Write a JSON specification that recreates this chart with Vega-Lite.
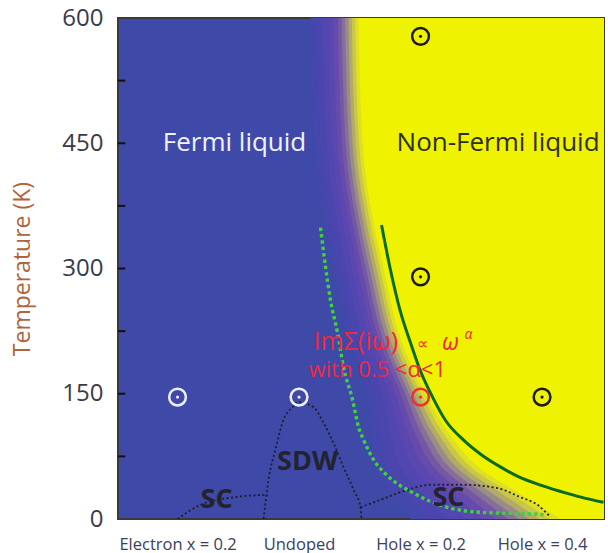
{
  "$schema": "https://vega.github.io/schema/vega-lite/v6.json",
  "width": 486,
  "height": 501,
  "autosize": {"type": "none"},
  "padding": {"left": 118, "top": 18, "right": 4, "bottom": 34},
  "background": "white",
  "config": {
    "view": {"fill": "#3e49a8", "stroke": "#3a3a3a", "strokeWidth": 2},
    "font": "Open Sans",
    "axis": {"grid": false, "domain": false, "ticks": false}
  },
  "datasets": {
    "bg": [
      {"T": 600, "b0": 1.095, "b1": 1.142, "b2": 1.193, "b3": 1.241, "b4": 1.284, "b5": 1.320, "b6": 1.351, "b7": 1.379, "b8": 1.407, "b9": 1.434, "b10": 1.462, "b11": 1.490},
      {"T": 450, "b0": 1.128, "b1": 1.175, "b2": 1.226, "b3": 1.274, "b4": 1.317, "b5": 1.353, "b6": 1.384, "b7": 1.412, "b8": 1.440, "b9": 1.467, "b10": 1.495, "b11": 1.523},
      {"T": 300, "b0": 1.284, "b1": 1.333, "b2": 1.387, "b3": 1.436, "b4": 1.481, "b5": 1.519, "b6": 1.551, "b7": 1.580, "b8": 1.609, "b9": 1.638, "b10": 1.667, "b11": 1.695},
      {"T": 200, "b0": 1.449, "b1": 1.500, "b2": 1.556, "b3": 1.607, "b4": 1.654, "b5": 1.693, "b6": 1.727, "b7": 1.757, "b8": 1.787, "b9": 1.817, "b10": 1.847, "b11": 1.877},
      {"T": 150, "b0": 1.564, "b1": 1.621, "b2": 1.683, "b3": 1.740, "b4": 1.793, "b5": 1.836, "b6": 1.874, "b7": 1.907, "b8": 1.941, "b9": 1.974, "b10": 2.008, "b11": 2.041},
      {"T": 100, "b0": 1.588, "b1": 1.667, "b2": 1.753, "b3": 1.832, "b4": 1.905, "b5": 1.964, "b6": 2.016, "b7": 2.063, "b8": 2.109, "b9": 2.155, "b10": 2.201, "b11": 2.247},
      {"T": 60, "b0": 1.630, "b1": 1.733, "b2": 1.846, "b3": 1.949, "b4": 2.044, "b5": 2.122, "b6": 2.191, "b7": 2.252, "b8": 2.312, "b9": 2.373, "b10": 2.433, "b11": 2.494},
      {"T": 30, "b0": 1.753, "b1": 1.881, "b2": 2.021, "b3": 2.149, "b4": 2.267, "b5": 2.363, "b6": 2.449, "b7": 2.523, "b8": 2.598, "b9": 2.673, "b10": 2.748, "b11": 2.823},
      {"T": 0, "b0": 1.918, "b1": 2.066, "b2": 2.226, "b3": 2.374, "b4": 2.510, "b5": 2.621, "b6": 2.720, "b7": 2.807, "b8": 2.893, "b9": 2.979, "b10": 3.066, "b11": 3.152}
    ],
    "lines": [
      {"c": "lg", "x": 1.177, "T": 349}, {"c": "lg", "x": 1.218, "T": 302}, {"c": "lg", "x": 1.259, "T": 262},
      {"c": "lg", "x": 1.317, "T": 223}, {"c": "lg", "x": 1.366, "T": 182}, {"c": "lg", "x": 1.440, "T": 143},
      {"c": "lg", "x": 1.490, "T": 110}, {"c": "lg", "x": 1.531, "T": 95}, {"c": "lg", "x": 1.613, "T": 71},
      {"c": "lg", "x": 1.712, "T": 54}, {"c": "lg", "x": 1.942, "T": 31}, {"c": "lg", "x": 2.222, "T": 14},
      {"c": "lg", "x": 2.494, "T": 8}, {"c": "lg", "x": 2.930, "T": 6}, {"c": "lg", "x": 3.012, "T": 5},
      {"c": "dg", "x": 1.679, "T": 352}, {"c": "dg", "x": 1.75, "T": 300}, {"c": "dg", "x": 1.835, "T": 248},
      {"c": "dg", "x": 1.92, "T": 210}, {"c": "dg", "x": 2.0, "T": 177}, {"c": "dg", "x": 2.099, "T": 146},
      {"c": "dg", "x": 2.206, "T": 118}, {"c": "dg", "x": 2.35, "T": 95}, {"c": "dg", "x": 2.5, "T": 77},
      {"c": "dg", "x": 2.65, "T": 63}, {"c": "dg", "x": 2.8, "T": 51}, {"c": "dg", "x": 3.0, "T": 40},
      {"c": "dg", "x": 3.2, "T": 31}, {"c": "dg", "x": 3.35, "T": 25}, {"c": "dg", "x": 3.506, "T": 20},
      {"c": "sc1", "x": 0.0, "T": 0}, {"c": "sc1", "x": 0.189, "T": 17}, {"c": "sc1", "x": 0.461, "T": 26}, {"c": "sc1", "x": 0.741, "T": 29},
      {"c": "sdw", "x": 0.708, "T": 0}, {"c": "sdw", "x": 0.749, "T": 47}, {"c": "sdw", "x": 0.807, "T": 84},
      {"c": "sdw", "x": 0.872, "T": 119}, {"c": "sdw", "x": 0.947, "T": 134}, {"c": "sdw", "x": 0.988, "T": 140},
      {"c": "sdw", "x": 1.119, "T": 134}, {"c": "sdw", "x": 1.202, "T": 115}, {"c": "sdw", "x": 1.284, "T": 91},
      {"c": "sdw", "x": 1.366, "T": 62}, {"c": "sdw", "x": 1.449, "T": 35}, {"c": "sdw", "x": 1.506, "T": 14},
      {"c": "sdw", "x": 1.514, "T": 0},
      {"c": "sc2", "x": 1.506, "T": 14}, {"c": "sc2", "x": 1.671, "T": 23}, {"c": "sc2", "x": 1.893, "T": 35},
      {"c": "sc2", "x": 2.082, "T": 41}, {"c": "sc2", "x": 2.354, "T": 41}, {"c": "sc2", "x": 2.634, "T": 37},
      {"c": "sc2", "x": 2.823, "T": 26}, {"c": "sc2", "x": 2.963, "T": 17}, {"c": "sc2", "x": 3.07, "T": 2}
    ],
    "pts": [
      {"x": 0, "T": 146, "c": "w"}, {"x": 1, "T": 146, "c": "w"}, {"x": 2, "T": 146, "c": "r"},
      {"x": 3, "T": 146, "c": "k"}, {"x": 2, "T": 290, "c": "k"}, {"x": 2, "T": 578, "c": "k"}
    ],
    "xticks": [{"x": 0}, {"x": 1}, {"x": 2}, {"x": 3}],
    "yticks": [{"T": 75}, {"T": 150}, {"T": 225}, {"T": 300}, {"T": 375}, {"T": 450}, {"T": 525}],
    "labels": [
      {"k": "fl", "x": 0.469, "T": 450, "t": "Fermi liquid"},
      {"k": "nfl", "x": 2.638, "T": 450, "t": "Non-Fermi liquid"},
      {"k": "red1", "x": 1.119, "T": 212, "t": "ImΣ(iω)"},
      {"k": "prop", "x": 2.016, "T": 209, "t": "∝"},
      {"k": "omega", "x": 2.247, "T": 211, "t": "ω"},
      {"k": "sup", "x": 2.395, "T": 220, "t": "α"},
      {"k": "red2", "x": 1.078, "T": 179, "t": "with 0.5 <α<1"},
      {"k": "bold", "x": 1.07, "T": 68, "t": "SDW"},
      {"k": "bold", "x": 0.321, "T": 23, "t": "SC"},
      {"k": "bold", "x": 2.23, "T": 25, "t": "SC"}
    ]
  },
  "encoding": {
    "y": {"field": "T", "type": "quantitative", "scale": {"domain": [0, 600], "nice": false},
      "axis": {"title": "Temperature (K)", "values": [0, 150, 300, 450, 600],
        "labelFontSize": 24, "labelColor": "#3a3a48",
        "labelPadding": 15, "titleFontSize": 23, "titleColor": "#b0643c", "titleFontWeight": "normal", "titlePadding": 27}}
  },
  "layer": [
    {"data": {"name": "bg"}, "mark": {"type": "area", "orient": "horizontal", "color": "#4447ac", "interpolate": "monotone", "clip": true},
     "encoding": {"x": {"field": "b0", "type": "quantitative", "scale": {"domain": [-0.49, 3.51], "nice": false, "zero": false},
        "axis": {"title": null, "values": [0, 1, 2, 3], "labelExpr": "['Electron x = 0.2','Undoped','Hole x = 0.2','Hole x = 0.4'][datum.value]",
          "labelFontSize": 16.5, "labelColor": "#3a4060", "labelPadding": 17}}, "x2": {"datum": 3.51}}},
    {"data": {"name": "bg"}, "mark": {"type": "area", "orient": "horizontal", "color": "#4a46ae", "interpolate": "monotone", "clip": true},
     "encoding": {"x": {"field": "b1", "type": "quantitative"}, "x2": {"datum": 3.51}}},
    {"data": {"name": "bg"}, "mark": {"type": "area", "orient": "horizontal", "color": "#5246b0", "interpolate": "monotone", "clip": true},
     "encoding": {"x": {"field": "b2", "type": "quantitative"}, "x2": {"datum": 3.51}}},
    {"data": {"name": "bg"}, "mark": {"type": "area", "orient": "horizontal", "color": "#5b47b0", "interpolate": "monotone", "clip": true},
     "encoding": {"x": {"field": "b3", "type": "quantitative"}, "x2": {"datum": 3.51}}},
    {"data": {"name": "bg"}, "mark": {"type": "area", "orient": "horizontal", "color": "#664bad", "interpolate": "monotone", "clip": true},
     "encoding": {"x": {"field": "b4", "type": "quantitative"}, "x2": {"datum": 3.51}}},
    {"data": {"name": "bg"}, "mark": {"type": "area", "orient": "horizontal", "color": "#7458a6", "interpolate": "monotone", "clip": true},
     "encoding": {"x": {"field": "b5", "type": "quantitative"}, "x2": {"datum": 3.51}}},
    {"data": {"name": "bg"}, "mark": {"type": "area", "orient": "horizontal", "color": "#86709a", "interpolate": "monotone", "clip": true},
     "encoding": {"x": {"field": "b6", "type": "quantitative"}, "x2": {"datum": 3.51}}},
    {"data": {"name": "bg"}, "mark": {"type": "area", "orient": "horizontal", "color": "#9a8c86", "interpolate": "monotone", "clip": true},
     "encoding": {"x": {"field": "b7", "type": "quantitative"}, "x2": {"datum": 3.51}}},
    {"data": {"name": "bg"}, "mark": {"type": "area", "orient": "horizontal", "color": "#b2aa66", "interpolate": "monotone", "clip": true},
     "encoding": {"x": {"field": "b8", "type": "quantitative"}, "x2": {"datum": 3.51}}},
    {"data": {"name": "bg"}, "mark": {"type": "area", "orient": "horizontal", "color": "#c9c846", "interpolate": "monotone", "clip": true},
     "encoding": {"x": {"field": "b9", "type": "quantitative"}, "x2": {"datum": 3.51}}},
    {"data": {"name": "bg"}, "mark": {"type": "area", "orient": "horizontal", "color": "#dfe024", "interpolate": "monotone", "clip": true},
     "encoding": {"x": {"field": "b10", "type": "quantitative"}, "x2": {"datum": 3.51}}},
    {"data": {"name": "bg"}, "mark": {"type": "area", "orient": "horizontal", "color": "#eff200", "interpolate": "monotone", "clip": true},
     "encoding": {"x": {"field": "b11", "type": "quantitative"}, "x2": {"datum": 3.51}}},
    {"data": {"name": "xticks"}, "mark": {"type": "rule", "color": "#111111", "strokeWidth": 2},
     "encoding": {"x": {"field": "x", "type": "quantitative"}, "y": {"datum": 0}, "y2": {"datum": 9}}},
    {"data": {"name": "yticks"}, "mark": {"type": "rule", "color": "#111111", "strokeWidth": 2},
     "encoding": {"x": {"datum": -0.49}, "x2": {"datum": -0.43}}},
    {"data": {"name": "lines"}, "transform": [{"filter": "datum.c == 'sc1' || datum.c == 'sdw' || datum.c == 'sc2'"}],
     "mark": {"type": "line", "color": "#1e1e2a", "strokeWidth": 1.8, "strokeDash": [2, 2.5], "interpolate": "monotone", "clip": true},
     "encoding": {"x": {"field": "x", "type": "quantitative"}, "detail": {"field": "c"}}},
    {"data": {"name": "lines"}, "transform": [{"filter": "datum.c == 'lg'"}],
     "mark": {"type": "line", "color": "#3fd23f", "strokeWidth": 3.4, "strokeDash": [3.4, 3], "interpolate": "monotone", "clip": true},
     "encoding": {"x": {"field": "x", "type": "quantitative"}}},
    {"data": {"name": "lines"}, "transform": [{"filter": "datum.c == 'dg'"}],
     "mark": {"type": "line", "color": "#0a6a2a", "strokeWidth": 3, "interpolate": "monotone", "clip": true},
     "encoding": {"x": {"field": "x", "type": "quantitative"}}},
    {"data": {"name": "pts"}, "mark": {"type": "point", "filled": false, "size": 280, "strokeWidth": 2.5, "opacity": 1},
     "encoding": {"x": {"field": "x", "type": "quantitative"},
       "color": {"field": "c", "type": "nominal", "scale": {"domain": ["w", "r", "k"], "range": ["#eef0ff", "#ee3030", "#1a1a1a"]}, "legend": null}}},
    {"data": {"name": "pts"}, "mark": {"type": "point", "filled": true, "size": 10, "opacity": 1},
     "encoding": {"x": {"field": "x", "type": "quantitative"},
       "color": {"field": "c", "type": "nominal", "legend": null}}},
    {"data": {"name": "labels"}, "transform": [{"filter": "datum.k == 'fl'"}],
     "mark": {"type": "text", "fontSize": 26, "color": "#f0f2ff", "align": "center", "baseline": "middle"},
     "encoding": {"x": {"field": "x", "type": "quantitative"}, "text": {"field": "t"}}},
    {"data": {"name": "labels"}, "transform": [{"filter": "datum.k == 'nfl'"}],
     "mark": {"type": "text", "fontSize": 26, "color": "#2e2e24", "align": "center", "baseline": "middle"},
     "encoding": {"x": {"field": "x", "type": "quantitative"}, "text": {"field": "t"}}},
    {"data": {"name": "labels"}, "transform": [{"filter": "datum.k == 'red1'"}],
     "mark": {"type": "text", "fontSize": 25, "color": "#ee2a3a", "align": "left", "baseline": "middle"},
     "encoding": {"x": {"field": "x", "type": "quantitative"}, "text": {"field": "t"}}},
    {"data": {"name": "labels"}, "transform": [{"filter": "datum.k == 'prop'"}],
     "mark": {"type": "text", "fontSize": 16, "color": "#ee2a3a", "align": "center", "baseline": "middle"},
     "encoding": {"x": {"field": "x", "type": "quantitative"}, "text": {"field": "t"}}},
    {"data": {"name": "labels"}, "transform": [{"filter": "datum.k == 'omega'"}],
     "mark": {"type": "text", "fontSize": 23, "fontStyle": "italic", "color": "#ee2a3a", "align": "center", "baseline": "middle"},
     "encoding": {"x": {"field": "x", "type": "quantitative"}, "text": {"field": "t"}}},
    {"data": {"name": "labels"}, "transform": [{"filter": "datum.k == 'sup'"}],
     "mark": {"type": "text", "fontSize": 14, "fontStyle": "italic", "color": "#ee2a3a", "align": "center", "baseline": "middle"},
     "encoding": {"x": {"field": "x", "type": "quantitative"}, "text": {"field": "t"}}},
    {"data": {"name": "labels"}, "transform": [{"filter": "datum.k == 'red2'"}],
     "mark": {"type": "text", "fontSize": 22, "color": "#ee2a3a", "align": "left", "baseline": "middle"},
     "encoding": {"x": {"field": "x", "type": "quantitative"}, "text": {"field": "t"}}},
    {"data": {"name": "labels"}, "transform": [{"filter": "datum.k == 'bold'"}],
     "mark": {"type": "text", "fontSize": 27, "fontWeight": "bold", "color": "#23232e", "align": "center", "baseline": "middle"},
     "encoding": {"x": {"field": "x", "type": "quantitative"}, "text": {"field": "t"}}}
  ]
}
